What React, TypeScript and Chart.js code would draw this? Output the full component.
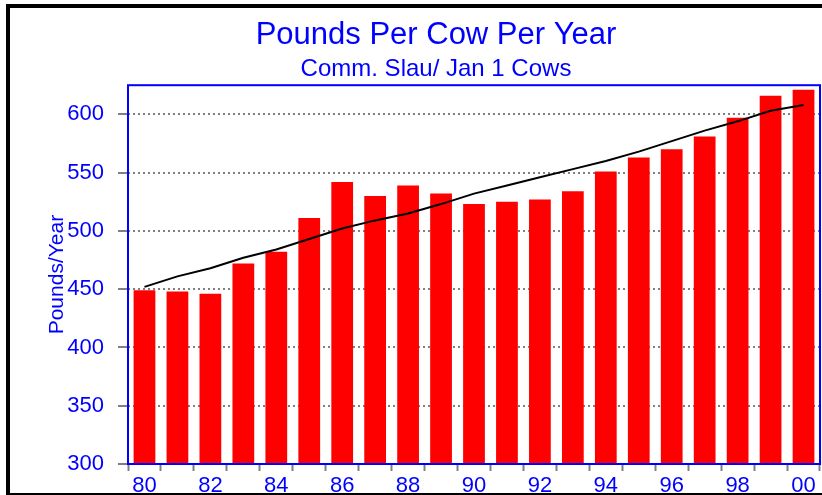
import React, { useEffect, useRef } from "react";
import { Chart, registerables } from "chart.js";

Chart.register(...registerables);

const years = ["80", "81", "82", "83", "84", "85", "86", "87", "88", "89", "90", "91", "92", "93", "94", "95", "96", "97", "98", "99", "00"];
const poundsPerCow = [449, 448, 446, 472, 482, 511, 542, 530, 539, 532, 523, 525, 527, 534, 551, 563, 570, 581, 597, 616, 621];
const trendLine = [452, 461, 468, 477, 484, 493, 502, 509, 515, 523, 532, 539, 546, 553, 560, 568, 577, 586, 594, 603, 608];
const yMin = 300;
const yMax = 625;
const yStep = 50;

const BLUE = "#0000ff";
const GRAY = "#808080";
const FONT = "'Liberation Sans', Arial, Helvetica, sans-serif";

const framePlugin = {
  id: "frame",
  beforeDraw(chart: any) {
    const { ctx, width, height } = chart;
    ctx.save();
    ctx.fillStyle = "#ffffff";
    ctx.fillRect(0, 0, width, height);
    ctx.restore();
  },
  afterDatasetsDraw(chart: any) {
    const { ctx, chartArea: a } = chart;
    ctx.save();
    ctx.strokeStyle = BLUE;
    ctx.lineWidth = 2;
    ctx.strokeRect(a.left, a.top, a.right - a.left, a.bottom - a.top);
    ctx.restore();
  },
  afterDraw(chart: any) {
    const { ctx, height } = chart;
    ctx.save();
    ctx.strokeStyle = "#000000";
    ctx.lineWidth = 4;
    ctx.strokeRect(8, 6, 840, height - 6);
    ctx.restore();
  },
};

export default function App() {
  const ref = useRef<HTMLCanvasElement | null>(null);

  useEffect(() => {
    document.body.style.margin = "0";
    const canvas = ref.current;
    if (!canvas) return;
    const chart = new Chart(canvas, {
      type: "bar",
      data: {
        labels: years,
        datasets: [
          {
            type: "line",
            label: "Trend",
            data: trendLine,
            borderColor: "#000000",
            borderWidth: 2,
            pointRadius: 0,
            tension: 0,
            fill: false,
            order: 0,
          } as any,
          {
            type: "bar",
            label: "Pounds/Year",
            data: poundsPerCow,
            backgroundColor: "#ff0000",
            borderWidth: 0,
            categoryPercentage: 1,
            barPercentage: 0.66,
            order: 1,
          },
        ],
      },
      options: {
        responsive: false,
        animation: false,
        layout: { padding: { left: 52, right: 2, top: 0, bottom: -5 } },
        plugins: {
          legend: { display: false },
          tooltip: { enabled: false },
          title: {
            display: true,
            text: "Pounds Per Cow Per Year",
            color: BLUE,
            font: { family: FONT, size: 31, weight: "normal" as any, lineHeight: 1.2 },
            padding: { top: 17, bottom: 0 },
          },
          subtitle: {
            display: true,
            text: "Comm. Slau/ Jan 1 Cows",
            color: BLUE,
            font: { family: FONT, size: 24, weight: "normal" as any, lineHeight: 1.2 },
            padding: { top: 0.4, bottom: 1.8 },
          },
        },
        scales: {
          x: {
            offset: true,
            border: { display: false },
            grid: {
              offset: true,
              drawOnChartArea: false,
              drawTicks: true,
              tickLength: 7,
              tickColor: GRAY,
              tickWidth: 2,
            },
            ticks: {
              autoSkip: false,
              maxRotation: 0,
              color: BLUE,
              padding: 1.3,
              font: { family: FONT, size: 22, lineHeight: 1.2 },
              callback: (_v: any, i: number) => (i % 2 === 0 ? years[i] : ""),
            },
          },
          y: {
            min: yMin,
            max: yMax,
            border: { display: false, dash: [2, 3] },
            grid: {
              color: GRAY,
              lineWidth: 2,
              drawTicks: true,
              tickLength: 10,
              tickColor: GRAY,
              tickWidth: 2,
              tickBorderDash: [],
            },
            ticks: {
              stepSize: yStep,
              includeBounds: false,
              color: BLUE,
              padding: 14,
              font: { family: FONT, size: 22, lineHeight: 1.2 },
            },
            title: {
              display: true,
              text: "Pounds/Year",
              color: BLUE,
              font: { family: FONT, size: 21, lineHeight: 1.2 },
              padding: { top: -7.6, bottom: -16.3 },
            },
          },
        },
      },
      plugins: [framePlugin],
    });
    return () => chart.destroy();
  }, []);

  return <canvas ref={ref} width={822} height={495} style={{ display: "block" }} />;
}
